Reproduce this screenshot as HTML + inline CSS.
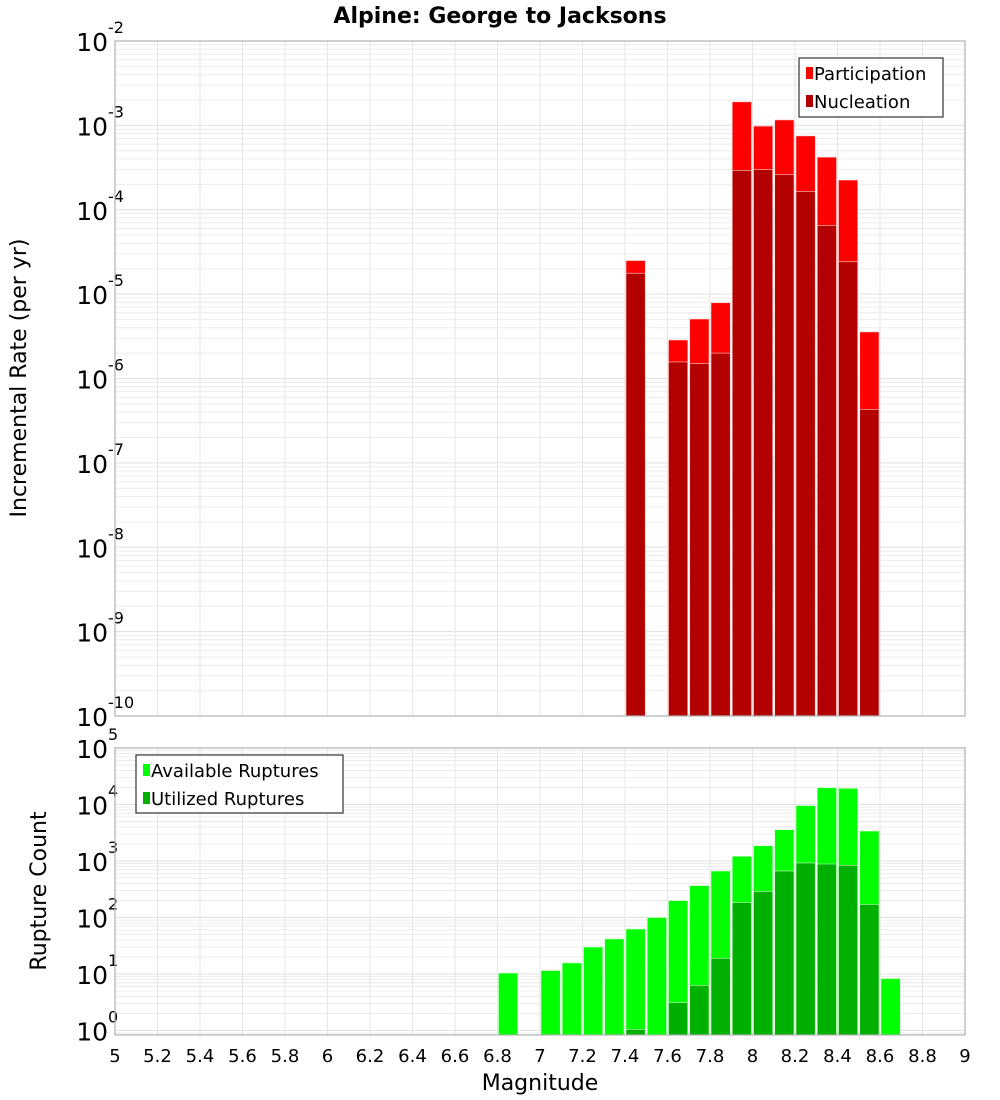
<!DOCTYPE html>
<html><head><meta charset="utf-8"><style>
html,body{margin:0;padding:0;background:#fff;}
svg{display:block;font-family:"DejaVu Sans","Liberation Sans",sans-serif;}
</style></head><body>
<svg id="chart" width="1000" height="1100" viewBox="0 0 1000 1100" xmlns="http://www.w3.org/2000/svg">
<text x="500" y="23" text-anchor="middle" font-size="22" font-weight="bold">Alpine: George to Jacksons</text>
<g id="top"></g>
<g id="bot"></g>
<text transform="translate(26,378) rotate(-90)" text-anchor="middle" font-size="22">Incremental Rate (per yr)</text>
<text transform="translate(46,891) rotate(-90)" text-anchor="middle" font-size="22">Rupture Count</text>
<text x="540" y="1090" text-anchor="middle" font-size="22">Magnitude</text>
</svg>
<script>
const rateMags = [7.4,7.6,7.7,7.8,7.9,8.0,8.1,8.2,8.3,8.4,8.5];
const participation = [2.5e-5,2.86e-6,5.07e-6,7.9e-6,1.9e-3,9.8e-4,1.16e-3,7.5e-4,4.2e-4,2.25e-4,3.56e-6];
const nucleation = [1.77e-5,1.57e-6,1.5e-6,2.0e-6,2.93e-4,2.99e-4,2.6e-4,1.65e-4,6.5e-5,2.42e-5,4.3e-7];
const availMags = [6.8,7.0,7.1,7.2,7.3,7.4,7.5,7.6,7.7,7.8,7.9,8.0,8.1,8.2,8.3,8.4,8.5,8.6];
const available = [10.4,11.5,15.7,30,41.7,62.5,100,199,366,665,1210,1860,3580,9550,19800,19300,3390,8.3];
const utilMags = [7.4,7.6,7.7,7.8,7.9,8.0,8.1,8.2,8.3,8.4,8.5];
const utilized = [1.05,3.1,6.3,19,183,290,665,923,885,840,171];
const xTicks = [5,5.2,5.4,5.6,5.8,6,6.2,6.4,6.6,6.8,7,7.2,7.4,7.6,7.8,8,8.2,8.4,8.6,8.8,9];
const rateExps = [-2,-3,-4,-5,-6,-7,-8,-9,-10];
const countExps = [5,4,3,2,1,0];

const NS="http://www.w3.org/2000/svg";
const X0=115,X1=965;
const xs=m=>X0+(m-5)/4*(X1-X0);
function mk(p,tag,a){const e=document.createElementNS(NS,tag);for(const k in a)e.setAttribute(k,a[k]);p.appendChild(e);return e;}

function panel(g,top,bottom,yFn,lmin,lmax,exps,name){
  mk(g,'rect',{x:X0,y:top,width:X1-X0,height:bottom-top,fill:'#fff'});
  for(let d=Math.floor(lmin);d<=Math.ceil(lmax);d++){
    for(let k=1;k<10;k++){const v=d+Math.log10(k);if(v<lmin||v>lmax)continue;const y=yFn(Math.pow(10,v));
      const l=mk(g,'line',{x1:X0,x2:X1,y1:y,y2:y,stroke:k==1?'#e0e0e0':'#ececec','stroke-width':1});
      }
  }
  xTicks.forEach(t=>{const x=xs(t);const l=mk(g,'line',{x1:x,x2:x,y1:top,y2:bottom,stroke:'#e6e6e6','stroke-width':1});
    });
  exps.forEach(e=>{const y=yFn(Math.pow(10,e));
    const t=mk(g,'text',{x:108,y:y+10,'text-anchor':'end','font-size':25});
    
    t.textContent='10';
    const s=mk(g,'text',{x:108,y:y-8,'text-anchor':'start','font-size':16});
    
    s.textContent=String(e);});
}
function bars(g,mags,vals,yFn,bottom,color,name){
  mags.forEach((m,i)=>{const x=xs(m)+1,w=xs(m+0.1)-xs(m)-2;const y=yFn(vals[i]);
    const r=mk(g,'rect',{x:x,y:y,width:w,height:bottom-y,fill:color,stroke:'#ffd0d0','stroke-width':0.6});
    if(color.indexOf('0')!==-1&&name.indexOf('avail')+name.indexOf('util')>-2)r.setAttribute('stroke','#c8ffc8');
    });
}
function legend(g,x,y,w,h,items,name){
  const b=mk(g,'rect',{x:x,y:y,width:w,height:h,fill:'#fff',stroke:'#333','stroke-width':1.2});
  
  items.forEach((it,i)=>{const yy=y+15+i*28;
    const s=mk(g,'rect',{x:x+7,y:yy-6,width:7,height:12,fill:it[1]});
    
    const t=mk(g,'text',{x:x+15,y:yy+7,'font-size':18});
    t.textContent=it[0];});
}
// top
const gt=document.getElementById('top');
const T0=41,T1=716;
const yr=v=>T0+(-2-Math.log10(v))/8*(T1-T0);
panel(gt,T0,T1,yr,-10,-2,rateExps,'rate');
bars(gt,rateMags,participation,yr,T1,'#ff0000','participation');
bars(gt,rateMags,nucleation,yr,T1,'#b30000','nucleation');
mk(gt,'rect',{x:X0,y:T0,width:X1-X0,height:T1-T0,fill:'none',stroke:'#b0b0b0','stroke-width':1.2});
legend(gt,799,58,144,59,[['Participation','#ff0000'],['Nucleation','#b30000']],'rate-legend');
// bottom
const gb=document.getElementById('bot');
const B0=748,B1=1035,dec=56.5;
const yc=v=>B0+(5-Math.log10(v))*dec;
const lminB=5-(B1-B0)/dec;
panel(gb,B0,B1,yc,lminB,5,countExps,'count');
bars(gb,availMags,available,yc,B1,'#00ff00','available');
bars(gb,utilMags,utilized,yc,B1,'#00b000','utilized');
mk(gb,'rect',{x:X0,y:B0,width:X1-X0,height:B1-B0,fill:'none',stroke:'#b0b0b0','stroke-width':1.2});
legend(gb,136,755,207,58,[['Available Ruptures','#00ff00'],['Utilized Ruptures','#00b000']],'count-legend');
xTicks.forEach(t=>{const e=mk(gb,'text',{x:xs(t),y:1062,'text-anchor':'middle','font-size':18});
  e.textContent=String(t);});
</script>
</body></html>
